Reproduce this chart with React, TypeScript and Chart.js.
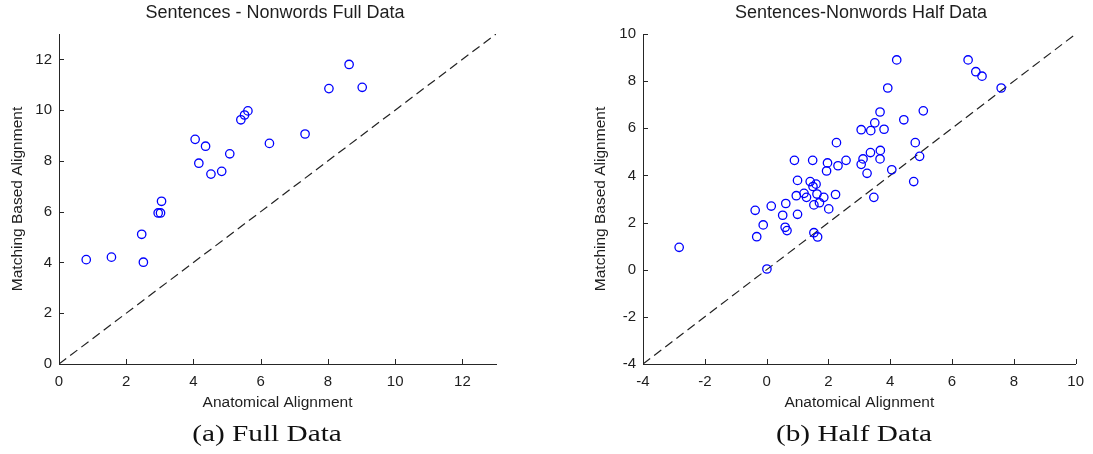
import React, { useEffect, useRef } from 'react';
import { Chart, registerables } from 'chart.js';

Chart.register(...registerables);

// ---------- data ----------
const FULL_X = [8.63, 8.03, 9.02, 5.62, 5.52, 5.41, 7.32, 6.26, 4.05, 4.36, 5.08, 4.16, 4.52, 4.84, 3.05, 2.95, 3.02, 2.46, 2.51, 1.56, 0.81];
const FULL_Y = [11.8, 10.85, 10.9, 9.97, 9.81, 9.62, 9.06, 8.69, 8.85, 8.58, 8.28, 7.91, 7.48, 7.59, 6.41, 5.95, 5.95, 5.11, 4.01, 4.21, 4.11];

const HALF_X = [4.21, 6.52, 6.77, 6.97, 7.59, 3.92, 3.67, 5.07, 4.44, 3.5, 3.06, 3.37, 3.8, 2.26, 4.81, 3.36, 3.68, 4.95, 0.9, 1.49, 2.57, 3.12, 3.67, 1.97, 2.31, 3.06, 1.94, 4.05, 3.25, 4.76, 1.0, 1.41, 1.6, 1.5, 1.21, 1.63, 0.96, 2.23, 1.85, 3.47, 1.29, 1.53, 1.71, 0.62, 0.15, -0.37, 2.01, 0.52, 1.0, -0.11, 0.6, 0.66, -0.32, 1.53, 1.65, -2.83, 0.01];
const HALF_Y = [8.9, 8.9, 8.4, 8.21, 7.71, 7.71, 6.69, 6.74, 6.36, 6.23, 5.94, 5.9, 5.96, 5.39, 5.39, 4.97, 5.06, 4.81, 4.64, 4.64, 4.64, 4.7, 4.7, 4.53, 4.41, 4.47, 4.19, 4.24, 4.09, 3.74, 3.79, 3.74, 3.63, 3.53, 3.24, 3.21, 3.14, 3.19, 3.07, 3.07, 3.07, 2.75, 2.84, 2.81, 2.7, 2.52, 2.58, 2.31, 2.35, 1.9, 1.8, 1.66, 1.4, 1.57, 1.39, 0.95, 0.03];

const FULL_TICKS = [0, 2, 4, 6, 8, 10, 12];
const HALF_TICKS = [-4, -2, 0, 2, 4, 6, 8, 10];
const FULL_RANGE = [0, 13];
const HALF_RANGE = [-4, 10];

const FULL_TITLE = 'Sentences - Nonwords Full Data';
const HALF_TITLE = 'Sentences-Nonwords Half Data';
const X_LABEL = 'Anatomical Alignment';
const Y_LABEL = 'Matching Based Alignment';
const CAPTION_A = '(a) Full Data';
const CAPTION_B = '(b) Half Data';

// ---------- styling ----------
const SANS = '"Liberation Sans", Arial, Helvetica, sans-serif';
const AXIS_COLOR = '#262626';
const TEXT_COLOR = '#1e1e1e';
const CANVAS_H = 420;
const PLOT_TOP = 34;
const PLOT_BOTTOM = 364;

const decorPlugin = {
  id: 'decor',
  afterDraw(chart: any, _args: any, opts: any) {
    const { ctx, chartArea } = chart;
    const xs = chart.scales.x;
    const ys = chart.scales.y;
    ctx.save();
    ctx.strokeStyle = AXIS_COLOR;
    ctx.lineWidth = 1;
    ctx.beginPath();
    xs.ticks.forEach((t: any) => {
      const p = Math.round(xs.getPixelForValue(t.value)) + 0.5;
      ctx.moveTo(p, chartArea.bottom);
      ctx.lineTo(p, chartArea.bottom - 5);
    });
    ys.ticks.forEach((t: any) => {
      const p = Math.round(ys.getPixelForValue(t.value)) + 0.5;
      ctx.moveTo(chartArea.left, p);
      ctx.lineTo(chartArea.left + 5, p);
    });
    ctx.stroke();
    ctx.font = `18px ${SANS}`;
    ctx.fillStyle = TEXT_COLOR;
    ctx.textAlign = 'center';
    ctx.textBaseline = 'middle';
    ctx.fillText(opts.text, opts.x, opts.y);
    ctx.restore();
  },
};

type PanelProps = {
  xs: number[];
  ys: number[];
  ticks: number[];
  range: number[];
  title: string;
  left: number;
  width: number;
  plotLeft: number;
  plotRight: number;
  yTitleX: number;
  titleX: number;
};

function Panel(p: PanelProps) {
  const ref = useRef<HTMLCanvasElement | null>(null);
  useEffect(() => {
    if (!ref.current) return;
    const tickFont = { family: SANS, size: 15 };
    const titleFont = { family: SANS, size: 15.5 };
    const lh = 15.5 * 1.2;
    const chart = new Chart(ref.current, {
      type: 'scatter',
      data: {
        datasets: [
          {
            type: 'scatter',
            data: p.xs.map((x, i) => ({ x, y: p.ys[i] })),
            pointRadius: 4.2,
            pointBorderWidth: 1.3,
            borderColor: '#0000ff',
            pointBorderColor: '#0000ff',
            backgroundColor: 'rgba(0,0,0,0)',
            pointBackgroundColor: 'rgba(0,0,0,0)',
            pointStyle: 'circle',
          } as any,
          {
            type: 'line',
            data: [
              { x: p.range[0], y: p.range[0] },
              { x: p.range[1], y: p.range[1] },
            ],
            borderColor: '#222222',
            borderWidth: 1.2,
            borderDash: [9, 5],
            pointRadius: 0,
            fill: false,
            showLine: true,
          } as any,
        ],
      },
      options: {
        responsive: false,
        animation: false,
        events: [],
        layout: { padding: { top: PLOT_TOP, right: p.width - p.plotRight, left: 0, bottom: 0 } },
        plugins: {
          legend: { display: false },
          tooltip: { enabled: false },
          title: { display: false },
          decor: { text: p.title, x: p.titleX, y: 13 },
        } as any,
        scales: {
          x: {
            type: 'linear',
            min: p.range[0],
            max: p.range[1],
            grid: { display: true, drawOnChartArea: false, drawTicks: false },
            border: { display: true, color: AXIS_COLOR, width: 1 },
            ticks: { font: tickFont, color: TEXT_COLOR, padding: 9, maxRotation: 0, autoSkip: false },
            title: { display: true, text: X_LABEL, font: titleFont, color: TEXT_COLOR, padding: { top: 0, bottom: CANVAS_H - 403 - lh / 2 } },
            afterBuildTicks: (s: any) => {
              s.ticks = p.ticks.map((v) => ({ value: v }));
            },
            afterFit: (s: any) => {
              s.height = CANVAS_H - PLOT_BOTTOM;
            },
          },
          y: {
            type: 'linear',
            min: p.range[0],
            max: p.range[1],
            grid: { display: true, drawOnChartArea: false, drawTicks: false },
            border: { display: true, color: AXIS_COLOR, width: 1 },
            ticks: { font: tickFont, color: TEXT_COLOR, padding: 7, autoSkip: false },
            title: { display: true, text: Y_LABEL, font: titleFont, color: TEXT_COLOR, padding: { top: p.yTitleX - lh / 2, bottom: 0 } },
            afterBuildTicks: (s: any) => {
              s.ticks = p.ticks.map((v) => ({ value: v }));
            },
            afterFit: (s: any) => {
              s.width = p.plotLeft;
            },
          },
        },
      } as any,
      plugins: [decorPlugin as any],
    });
    return () => chart.destroy();
  }, []);
  return (
    <canvas
      ref={ref}
      width={p.width}
      height={CANVAS_H}
      style={{ position: 'absolute', left: p.left, top: 0, width: p.width, height: CANVAS_H }}
    />
  );
}

const captionStyle = (center: number): React.CSSProperties => ({
  position: 'absolute',
  left: center - 150,
  width: 300,
  top: 418,
  height: 30,
  lineHeight: '30px',
  textAlign: 'center',
  fontFamily: '"Liberation Serif", "Times New Roman", serif',
  fontSize: 24,
  color: '#111',
  transform: 'scaleX(1.22)',
  whiteSpace: 'nowrap',
});

export default function App() {
  return (
    <div style={{ position: 'absolute', left: 0, top: 0, width: 1093, height: 454, background: '#fff', overflow: 'hidden' }}>
      <Panel
        xs={FULL_X}
        ys={FULL_Y}
        ticks={FULL_TICKS}
        range={FULL_RANGE}
        title={FULL_TITLE}
        left={0}
        width={546}
        plotLeft={59}
        plotRight={496}
        yTitleX={18}
        titleX={275}
      />
      <Panel
        xs={HALF_X}
        ys={HALF_Y}
        ticks={HALF_TICKS}
        range={HALF_RANGE}
        title={HALF_TITLE}
        left={546}
        width={547}
        plotLeft={97}
        plotRight={533}
        yTitleX={55}
        titleX={315}
      />
      <div style={captionStyle(267)}>{CAPTION_A}</div>
      <div style={captionStyle(854)}>{CAPTION_B}</div>
    </div>
  );
}
